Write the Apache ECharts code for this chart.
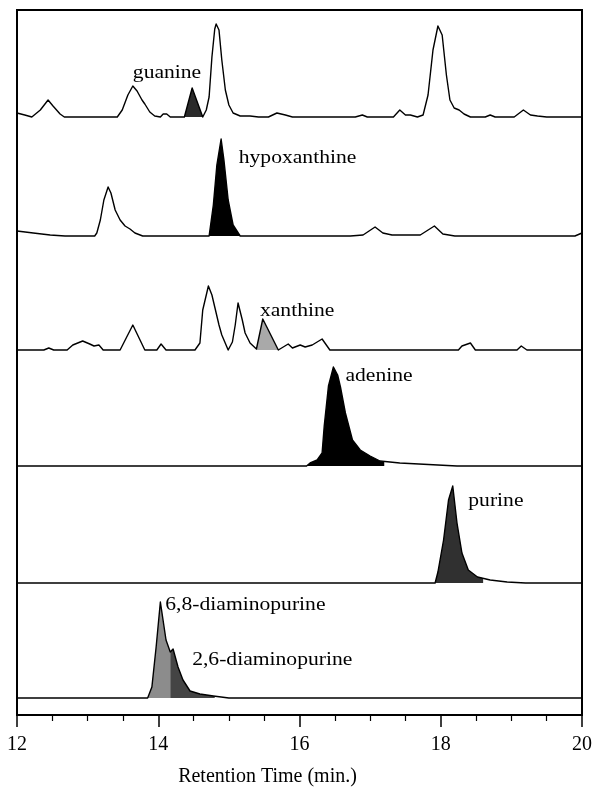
<!DOCTYPE html>
<html>
<head>
<meta charset="utf-8">
<title>Retention Time chromatograms</title>
<script src="https://cdn.jsdelivr.net/npm/echarts@6/dist/echarts.min.js"></script>
<style>
  html, body { margin:0; padding:0; background:#fff; }
  #chart { width:596px; height:794px; }
</style>
</head>
<body>
<div id="chart"></div>
<script>
// retention time (min) / detector signal, one array per trace (top to bottom)
var guanineTrace = [[12.00,4],[12.11,2],[12.21,0],[12.33,7],[12.44,17],[12.51,11],[12.61,3],[12.67,0],[13.42,0],[13.49,7],[13.57,22],[13.64,31],[13.70,26],[13.77,17],[13.81,13],[13.88,5],[13.95,1],[14.03,0],[14.07,3],[14.12,3],[14.17,0],[14.37,0],[14.48,29],[14.63,0],[14.68,7],[14.72,20],[14.76,60],[14.80,88],[14.82,93],[14.86,87],[14.90,57],[14.95,27],[15.00,12],[15.06,4],[15.16,1],[15.30,1],[15.42,0],[15.56,0],[15.68,4],[15.80,2],[15.90,0],[16.79,0],[16.89,2],[16.96,0],[17.33,0],[17.42,7],[17.50,2],[17.57,2],[17.67,0],[17.75,2],[17.82,22],[17.89,67],[17.96,91],[18.02,82],[18.08,42],[18.13,17],[18.19,9],[18.26,7],[18.33,3],[18.42,0],[18.63,0],[18.70,2],[18.77,0],[19.04,0],[19.17,7],[19.27,2],[19.37,1],[19.50,0],[20.00,0]];
var hypoxanthineTrace = [[12.00,5],[12.23,3],[12.47,1],[12.68,0],[13.10,0],[13.13,3],[13.18,16],[13.23,36],[13.29,49],[13.33,43],[13.39,26],[13.46,16],[13.53,10],[13.60,7],[13.67,3],[13.78,0],[14.72,0],[14.78,31],[14.83,71],[14.89,97],[14.93,76],[14.99,36],[15.06,11],[15.16,0],[16.72,0],[16.90,1],[17.07,9],[17.18,3],[17.31,1],[17.71,1],[17.91,10],[18.03,2],[18.20,0],[19.90,0],[20.00,3]];
var xanthineTrace = [[12.00,0],[12.38,0],[12.45,2],[12.52,0],[12.71,0],[12.79,5],[12.93,9],[13.03,6],[13.09,4],[13.16,5],[13.22,0],[13.46,0],[13.64,25],[13.81,0],[13.98,0],[14.04,6],[14.11,0],[14.52,0],[14.59,7],[14.63,40],[14.71,64],[14.76,55],[14.80,43],[14.86,25],[14.90,15],[14.99,0],[15.05,8],[15.09,25],[15.13,47],[15.19,30],[15.23,17],[15.30,7],[15.39,1],[15.48,31],[15.70,0],[15.77,3],[15.84,6],[15.90,2],[16.01,5],[16.08,3],[16.18,5],[16.32,11],[16.43,0],[18.25,0],[18.30,4],[18.42,7],[18.49,0],[19.08,0],[19.14,4],[19.22,0],[20.00,0]];
var adenineTrace = [[12.00,0],[16.10,0],[16.15,3],[16.25,6],[16.32,13],[16.35,40],[16.41,80],[16.48,99],[16.54,91],[16.58,79],[16.65,53],[16.75,26],[16.86,16],[17.00,10],[17.14,5],[17.42,3],[18.23,0],[20.00,0]];
var purineTrace = [[12.00,0],[17.92,0],[17.96,11],[18.04,43],[18.11,83],[18.17,97],[18.23,60],[18.30,30],[18.39,13],[18.52,6],[18.70,3],[18.94,1],[19.20,0],[20.00,0]];
var diaminoTrace = [[12.00,0],[13.85,0],[13.91,11],[13.97,51],[14.03,96],[14.11,58],[14.17,46],[14.21,49],[14.28,31],[14.35,18],[14.45,7],[14.59,4],[14.78,2],[15.00,0],[20.00,0]];

var traces = [guanineTrace, hypoxanthineTrace, xanthineTrace, adenineTrace, purineTrace, diaminoTrace];
var offsets = [598, 479, 365, 249, 132, 17];   // vertical stacking of the traces

// shaded peaks: trace index, start, end, shade
var peakFills = [
  [0, 14.37, 14.63, '#2a2a2a'],
  [1, 14.72, 15.16, '#000000'],
  [2, 15.39, 15.70, '#a9a9a9'],
  [3, 16.10, 17.20, '#000000'],
  [4, 17.92, 18.60, '#303030'],
  [5, 13.85, 14.17, '#8c8c8c'],
  [5, 14.17, 14.80, '#444444']
];

// peak names and where they sit
var peakNames = ['guanine', 'hypoxanthine', 'xanthine', 'adenine', 'purine', '6,8-diaminopurine', '2,6-diaminopurine'];
var nameTimes = [13.64, 15.14, 15.44, 16.65, 18.39, 14.10, 14.48];
var nameLevels = [642, 557, 404, 339, 214, 110, 55];

var serif = '"Liberation Serif", "DejaVu Serif", serif';

function valueAt(tr, t) {
  for (var i = 1; i < tr.length; i++) {
    if (tr[i][0] >= t) {
      var a = tr[i-1], b = tr[i];
      var k = (t - a[0]) / (b[0] - a[0]);
      return a[1] + k * (b[1] - a[1]);
    }
  }
  return tr[tr.length-1][1];
}

var series = [];

series.push({
  type: 'custom',
  z: 1,
  clip: false,
  data: peakFills.map(function(f){ return [f[1], offsets[f[0]]]; }),
  encode: {x: 0, y: 1},
  renderItem: function(params, api) {
    var f = peakFills[params.dataIndex];
    var tr = traces[f[0]], off = offsets[f[0]];
    var pts = [api.coord([f[1], off]), api.coord([f[1], off + valueAt(tr, f[1])])];
    tr.forEach(function(p){
      if (p[0] > f[1] && p[0] < f[2]) pts.push(api.coord([p[0], off + p[1]]));
    });
    pts.push(api.coord([f[2], off + valueAt(tr, f[2])]));
    pts.push(api.coord([f[2], off]));
    return {type: 'polygon', shape: {points: pts}, style: {fill: f[3]}};
  }
});

traces.forEach(function(tr, i){
  series.push({
    type: 'line',
    z: 2,
    symbol: 'none',
    smooth: false,
    lineStyle: {color: '#000', width: 1.4, join: 'round'},
    data: tr.map(function(p){ return [p[0], p[1] + offsets[i]]; })
  });
});

series.push({
  type: 'custom',
  z: 3,
  clip: false,
  data: nameTimes.map(function(t, i){ return [t, nameLevels[i]]; }),
  encode: {x: 0, y: 1},
  renderItem: function(params, api) {
    var c = api.coord([api.value(0), api.value(1)]);
    return {
      type: 'text', x: c[0], y: c[1], scaleX: 1.2,
      style: {text: peakNames[params.dataIndex], x: 0, y: 0, fill: '#000',
              font: '18px ' + serif, verticalAlign: 'middle', align: 'left'}
    };
  }
});

var chart = echarts.init(document.getElementById('chart'));
chart.setOption({
  animation: false,
  grid: {left: 17, right: 14, top: 10, bottom: 79, show: true, borderColor: '#000', borderWidth: 2},
  xAxis: {
    type: 'value', min: 12, max: 20, interval: 2,
    axisLine: {lineStyle: {color: '#000', width: 2}},
    axisTick: {inside: false, length: 12, lineStyle: {color: '#000', width: 1.5}},
    minorTick: {show: true, splitNumber: 4, length: 6, lineStyle: {color: '#000', width: 1.2}},
    splitLine: {show: false},
    axisLabel: {color: '#000', fontSize: 20, fontFamily: serif, margin: 20},
    name: 'Retention Time (min.)',
    nameLocation: 'middle',
    nameGap: 52,
    nameTextStyle: {color: '#000', fontSize: 20, fontFamily: serif, padding: [0, 64, 0, 0]}
  },
  yAxis: {type: 'value', min: 0, max: 705, show: false},
  series: series
});
</script>
</body>
</html>
